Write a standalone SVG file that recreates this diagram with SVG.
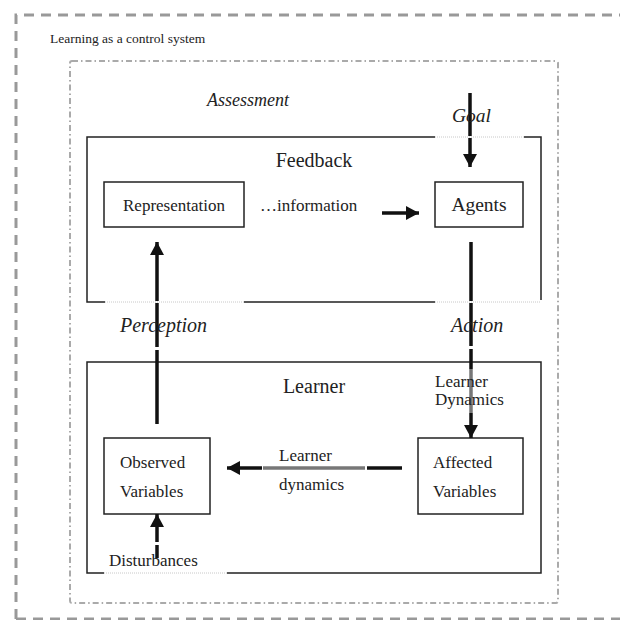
<svg xmlns="http://www.w3.org/2000/svg" width="620" height="620" viewBox="0 0 620 620">
<defs>
<style>
.t{font-family:"Liberation Serif","Times New Roman",serif;fill:#222}
.i{font-style:italic}
.box{fill:none;stroke:#222;stroke-width:1.5}
.dot{fill:none;stroke:#c8c8c8;stroke-width:1;stroke-dasharray:1 1}
.ar{stroke:#111;stroke-width:3.5;fill:none}
.gr{stroke:#777;stroke-width:3.5;fill:none}
</style>
<marker id="ah" markerUnits="userSpaceOnUse" markerWidth="14" markerHeight="14" viewBox="0 0 14 14" refX="13" refY="7" orient="auto">
<path d="M0,0 L13,7 L0,14 Z" fill="#111"/>
</marker>
</defs>
<rect width="620" height="620" fill="#fff"/>
<g id="frame">
<path d="M16,619 V15 H622" fill="none" stroke="#999" stroke-width="3" stroke-dasharray="10 7"/>
<path d="M16,619 H622" fill="none" stroke="#999" stroke-width="3" stroke-dasharray="10 7"/>
<text class="t" x="50" y="43" font-size="13.5">Learning as a control system</text>
</g>
<g id="assessment">
<rect x="70" y="61" width="488" height="542" rx="2" fill="none" stroke="#aaa" stroke-width="2" stroke-dasharray="6 3 1.5 3"/>
<text class="t i" x="207" y="106" font-size="18">Assessment</text>
</g>
<g id="feedback">
<path class="box" d="M435,137 H87 V302 H105 M244,302 H435 M524,137 H541 V300"/>
<path class="dot" d="M435,137 H524 M105,302 H244 M435,302 H541"/>
<text class="t" x="314" y="167" font-size="20" text-anchor="middle">Feedback</text>
<text class="t" x="260" y="211" font-size="17">…information</text>
</g>
<g id="representation">
<rect class="box" x="104" y="182" width="140" height="45"/>
<text class="t" x="174" y="211" font-size="17" text-anchor="middle">Representation</text>
</g>
<g id="agents">
<rect class="box" x="435" y="182" width="88" height="45"/>
<text class="t" x="479" y="211" font-size="19.5" text-anchor="middle">Agents</text>
</g>
<g id="learner">
<path class="box" d="M104,573 H87 V362 H541 V573 H227"/>
<path class="dot" d="M227,573 H104"/>
<text class="t" x="314" y="393" font-size="20" text-anchor="middle">Learner</text>
</g>
<g id="observed">
<rect class="box" x="104" y="438" width="106" height="76"/>
<text class="t" x="120" y="468" font-size="17">Observed</text>
<text class="t" x="120" y="497" font-size="17">Variables</text>
</g>
<g id="affected">
<rect class="box" x="418" y="438" width="105" height="76"/>
<text class="t" x="433" y="468" font-size="17">Affected</text>
<text class="t" x="433" y="497" font-size="17">Variables</text>
</g>
<g id="connectors">
<path class="ar" d="M470,93 V136"/>
<path class="ar" d="M470,138 V167" marker-end="url(#ah)"/>
<path class="ar" d="M382,213 H419" marker-end="url(#ah)"/>
<path class="ar" d="M471,242 V301 M471,303 V346 M471,349 V369"/>
<path class="gr" d="M471,369 V413"/>
<path class="ar" d="M471,413 V438" marker-end="url(#ah)"/>
<path class="ar" d="M157,424 V350"/>
<path class="ar" d="M157,347 V303"/>
<path class="ar" d="M157,301 V242" marker-end="url(#ah)"/>
<path class="ar" d="M157,558 V545"/>
<path class="ar" d="M157,542 V514" marker-end="url(#ah)"/>
<path class="ar" d="M402,468 H367"/>
<path class="gr" d="M365,468 H263"/>
<path class="ar" d="M262,468 H227" marker-end="url(#ah)"/>
</g>
<g id="labels">
<text class="t i" x="452" y="122" font-size="19.5">Goal</text>
<text class="t i" x="120" y="332" font-size="20">Perception</text>
<text class="t i" x="451" y="332" font-size="20">Action</text>
<text class="t" x="435" y="387" font-size="17">Learner</text>
<text class="t" x="435" y="405" font-size="17">Dynamics</text>
<text class="t" x="279" y="461" font-size="17">Learner</text>
<text class="t" x="279" y="490" font-size="17">dynamics</text>
<text class="t" x="109" y="566" font-size="17">Disturbances</text>
</g>
</svg>
